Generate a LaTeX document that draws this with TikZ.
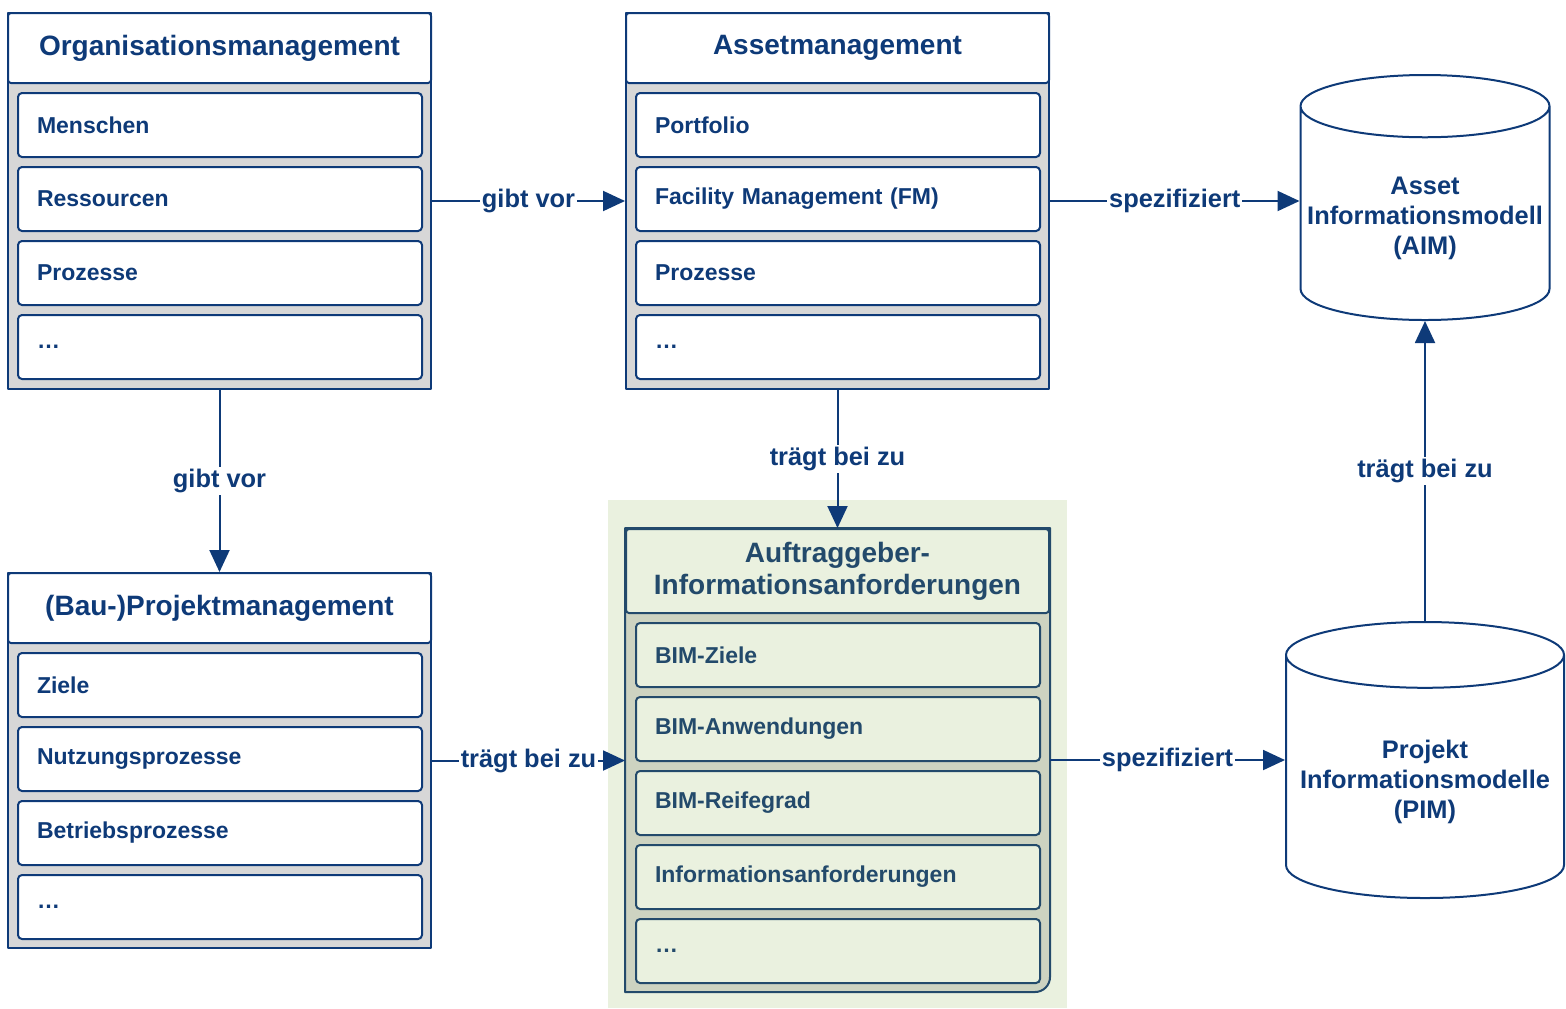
\documentclass[tikz,border=0pt]{standalone}
\usepackage{fontspec}
\setmainfont{Liberation Sans}
\usetikzlibrary{arrows.meta,shapes.geometric,positioning}
\definecolor{bmInk}{HTML}{0E3A78}
\definecolor{bmSlate}{HTML}{234A6B}
\definecolor{bmGray}{HTML}{D7D7D7}
\definecolor{bmSage}{HTML}{CDD3C1}
\definecolor{bmGreen}{HTML}{EAF1DF}
\tikzset{
 bim/.style={font=\bfseries,line join=round,text=bmInk},
 block/.style={rectangle,draw=bmInk,fill=bmGray,line width=1pt,anchor=north west,inner sep=0pt,minimum width=211.5pt},
 blockhead/.style={rectangle,draw=bmInk,fill=white,line width=1pt,anchor=north west,inner sep=0pt,
   minimum width=211.5pt,minimum height=35pt,rounded corners=1.5pt,align=center,font=\fontsize{14}{16}\selectfont\bfseries},
 entry/.style={rectangle,draw=bmInk,fill=white,line width=1pt,rounded corners=2pt,anchor=north west,
   inner xsep=9.5pt,inner ysep=0pt,text width=183pt,minimum height=32pt,align=left,font=\fontsize{11.5}{14}\selectfont\bfseries},
 store/.style={cylinder,shape border rotate=90,aspect=0.25,anchor=shape center,draw=bmInk,fill=white,line width=1pt,
   align=center,font=\fontsize{12.7}{15}\selectfont\bfseries},
 flow/.style={draw=bmInk,line width=1pt,-{Triangle[length=11pt,width=10pt]}},
 tag/.style={fill=white,inner sep=1pt,font=\fontsize{12.7}{15}\selectfont\bfseries,text=bmInk},
 aiaPart/.style={draw=bmSlate,fill=bmGreen,text=bmSlate}
}

\begin{document}
\begin{tikzpicture}[bim,x=0.5pt,y=-0.5pt]
 \useasboundingbox (0,0) rectangle (1566,1008);
 \fill[bmGreen] (608,500) rectangle (1067,1008);
 % management blocks
 \node[block,minimum height=188pt] (org) at (7,12) {};
 \node[blockhead] (orgHead) at (7,12) {Organisationsmanagement};
 \foreach \txt [count=\i from 0] in {Menschen,Ressourcen,Prozesse,\ldots}
   \node[entry] (org-\i) at (17,{92+74*\i}) {\txt};
 \node[block,minimum height=188pt] (asset) at (625,12) {};
 \node[blockhead] (assetHead) at (625,12) {Assetmanagement};
 \foreach \txt [count=\i from 0] in {Portfolio,Facility Management (FM),Prozesse,\ldots}
   \node[entry] (asset-\i) at (635,{92+74*\i}) {\txt};
 \node[block,minimum height=187.5pt] (proj) at (7,572) {};
 \node[blockhead] (projHead) at (7,572) {(Bau-)Projektmanagement};
 \foreach \txt [count=\i from 0] in {Ziele,Nutzungsprozesse,Betriebsprozesse,\ldots}
   \node[entry] (proj-\i) at (17,{652+74*\i}) {\txt};
 % AIA block
 \node[block,minimum height=231pt,draw=none,fill=none] (aia) at (625,528) {};
 \filldraw[draw=bmSlate,fill=bmSage,line width=1pt] (aia.north west) -- (aia.north east)
   -- ([yshift=7.5pt]aia.south east) arc[start angle=0,end angle=-90,radius=7.5pt] -- (aia.south west) -- cycle;
 \node[blockhead,aiaPart,minimum height=42pt] (aiaHead) at (625,528) {Auftraggeber-\\Informationsanforderungen};
 \foreach \txt [count=\i from 0] in {BIM-Ziele,BIM-Anwendungen,BIM-Reifegrad,Informationsanforderungen,\ldots}
   \node[entry,aiaPart] (aia-\i) at (635,{622+74*\i}) {\txt};
 % models
 \node[store,minimum width=124pt,minimum height=122.5pt] (aim) at (1425,197.5) {Asset\\Informationsmodell\\(AIM)};
 \node[store,minimum width=139pt,minimum height=138pt] (pim) at (1425,760) {Projekt\\Informationsmodelle\\(PIM)};
 % relations
 \draw[flow] (org) -- node[tag] {gibt vor} (asset);
 \draw[flow] (asset.east) -- node[tag] {spezifiziert} (asset.east -| aim.west);
 \draw[flow] (org) -- node[tag] {gibt vor} (proj);
 \draw[flow] (asset) -- node[tag] {trägt bei zu} (aia);
 \draw[flow] (proj.east) -- node[tag] {trägt bei zu} (proj.east -| aia.west);
 \draw[flow] (aia.east) -- node[tag] {spezifiziert} (aia.east -| pim.west);
 \draw[flow] (pim) -- node[tag] {trägt bei zu} (aim);
\end{tikzpicture}
\end{document}
